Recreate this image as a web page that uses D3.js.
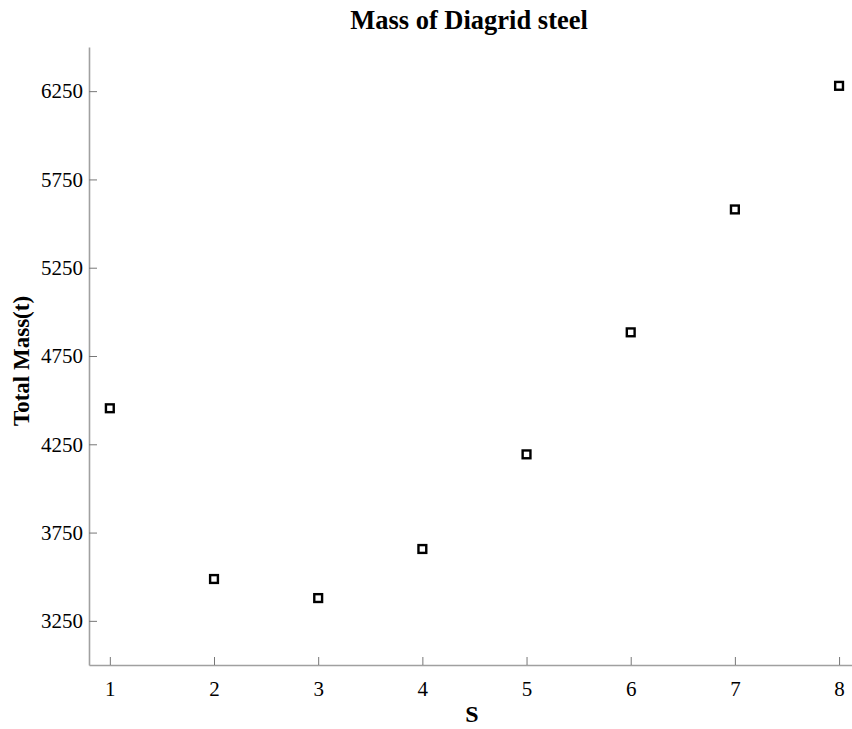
<!DOCTYPE html>
<html>
<head>
<meta charset="utf-8">
<script src="https://cdn.jsdelivr.net/npm/d3@7"></script>
<style>
  html, body { margin: 0; padding: 0; background: #fff; }
  svg { display: block; }
</style>
</head>
<body>
<svg id="chart" width="852" height="729"></svg>
<script>
// Spacing parameter S and the corresponding total diagrid steel mass (t)
const sValues = [1, 2, 3, 4, 5, 6, 7, 8];
const totalMass = [4454, 3487, 3379, 3657, 4193, 4884, 5580, 6280];
const xTicks = [1, 2, 3, 4, 5, 6, 7, 8];
const yTicks = [3250, 3750, 4250, 4750, 5250, 5750, 6250];

const svg = d3.select("#chart");
const plotLeft = 89, plotBottom = 665, plotTop = 47;

const x = d3.scaleLinear().domain([0.8, 8.2]).range([plotLeft, 859.9]);
const y = d3.scaleLinear().domain([3000, 6500]).range([plotBottom, plotTop]);

const serif = "'Liberation Serif', 'Times New Roman', serif";
const axisColor = "#a0a0a0";

// x axis (ticks pointing into the plot)
const xAxis = svg.append("g")
  .attr("transform", `translate(0,${plotBottom})`)
  .call(d3.axisBottom(x).tickValues(xTicks).tickFormat(d3.format("d"))
    .tickSizeInner(-8).tickSizeOuter(0).tickPadding(16));
// y axis
const yAxis = svg.append("g")
  .attr("transform", `translate(${plotLeft},0)`)
  .call(d3.axisLeft(y).tickValues(yTicks).tickFormat(d3.format("d"))
    .tickSizeInner(-8).tickSizeOuter(0).tickPadding(6));

[xAxis, yAxis].forEach(g => {
  g.select(".domain").attr("stroke", axisColor).attr("stroke-width", 1.6);
  g.selectAll(".tick line").attr("stroke", "#777").attr("stroke-width", 1);
  g.selectAll(".tick text")
    .attr("fill", "#000")
    .style("font-family", serif)
    .style("font-size", "21px");
});

// markers: open squares
svg.append("g").selectAll("rect")
  .data(sValues.map((s, i) => ({ s, m: totalMass[i] })))
  .join("rect")
  .attr("x", d => x(d.s) - 3.9)
  .attr("y", d => y(d.m) - 3.9)
  .attr("width", 7.8)
  .attr("height", 7.8)
  .attr("fill", "#fff")
  .attr("stroke", "#000")
  .attr("stroke-width", 2.4);

// title
svg.append("text")
  .attr("x", 469).attr("y", 29)
  .attr("text-anchor", "middle")
  .style("font-family", serif).style("font-weight", "bold").style("font-size", "26.5px")
  .text("Mass of Diagrid steel");

// x label
svg.append("text")
  .attr("x", 472).attr("y", 722)
  .attr("text-anchor", "middle")
  .style("font-family", serif).style("font-weight", "bold").style("font-size", "24px")
  .text("S");

// y label
svg.append("text")
  .attr("transform", "translate(29,361) rotate(-90)")
  .attr("text-anchor", "middle")
  .style("font-family", serif).style("font-weight", "bold").style("font-size", "23px")
  .text("Total Mass(t)");
</script>
</body>
</html>
